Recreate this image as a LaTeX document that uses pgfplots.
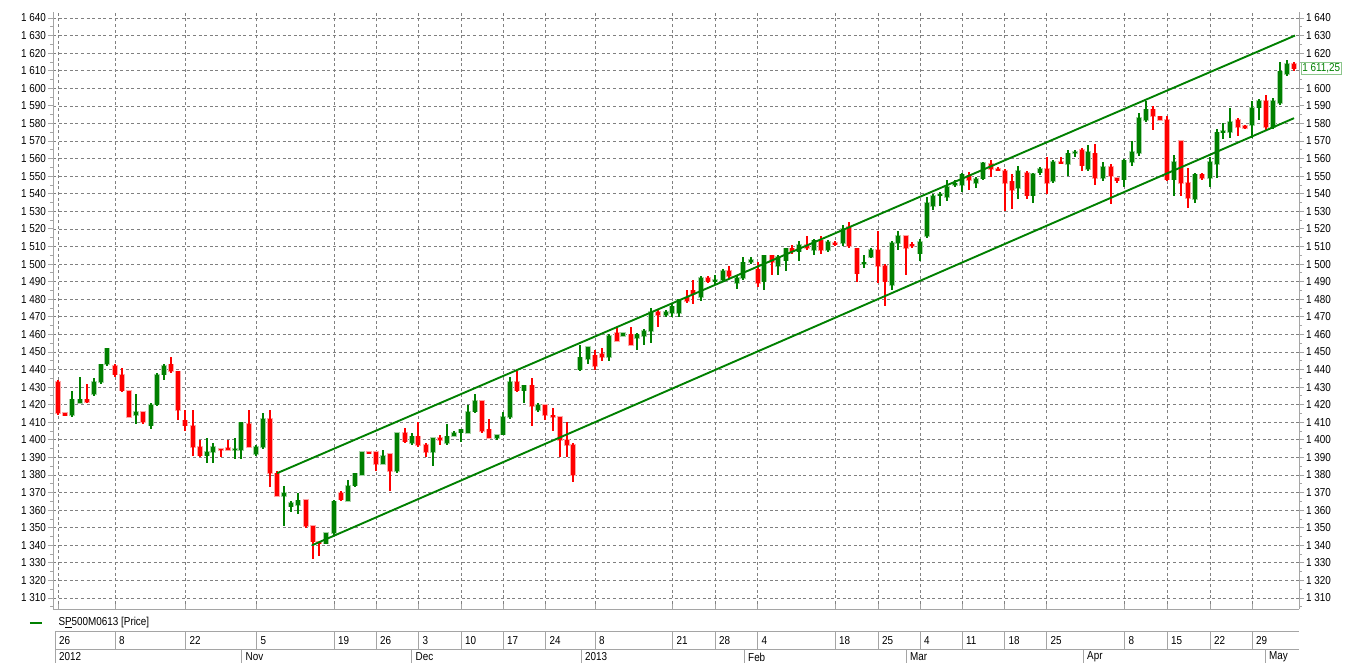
\documentclass[border=0pt]{standalone}
\usepackage{pgfplots}
\pgfplotsset{compat=1.18}
\usepackage{pgfplotstable}
\usepackage{fontspec}
\setmainfont{Liberation Sans}[FakeStretch=0.86]
\definecolor{cgreen}{RGB}{0,128,0}
\definecolor{cred}{RGB}{255,0,0}
\definecolor{gridc}{RGB}{128,128,128}
\definecolor{axc}{RGB}{165,165,165}

% up candles: x (px position), open, high, low, close
\pgfplotstableread{
x o h l c
72 1414 1428 1413 1423
80 1421 1436 1421 1423
94 1426 1435 1425 1433
101 1433 1443 1432 1443
107 1443 1452 1442 1452
136 1414 1426 1409 1416
151 1408 1421 1406 1420
157 1420 1438 1419 1437
164 1437 1443 1434 1442
207 1391 1401 1387 1393
213 1393 1398 1387 1396
235 1394 1401 1389 1395
241 1394 1410 1389 1410
256 1392 1397 1391 1396
263 1396 1415 1395 1412
284 1368 1374 1351 1370
291 1362 1365 1359 1364
298 1363 1370 1358 1365.5
326 1341 1347 1341 1347
334 1347 1366 1346 1365
348 1365 1377 1365 1374
355 1374 1381 1373 1381
362 1380 1393 1380 1393
383 1386 1394 1386 1391
397 1382 1404 1381 1404
412 1398 1404 1397 1402
433 1393 1401 1385 1401
447 1398 1409 1397 1402
454 1402 1405 1402 1404
461 1404 1406 1399 1406
468 1404 1420 1404 1416
475 1416 1426 1415 1422
497 1401 1403 1400 1403
503 1403 1416 1403 1413
510 1413 1436 1412 1433
524 1428 1431 1421 1431
538 1417 1421 1416 1420
580 1440 1454 1439 1447
588 1446 1453 1443 1453
609 1447 1460 1445 1459
623 1459 1461 1459 1461
637 1458 1461 1451 1460
644 1459 1463 1454 1462
651 1462 1475 1455 1473
666 1471 1474 1470 1473
672 1472 1477 1470 1476
679 1472 1480 1470 1480
701 1481 1493 1479 1492
715 1490 1493.6 1488 1491
723 1491 1497 1490 1496
737 1489 1494 1486 1492
743 1492 1504 1491 1501
751 1501 1504 1500 1502.5
764 1490 1505 1485 1505
778 1499 1505 1494 1504
786 1502 1509 1496 1509
799 1507 1513 1502 1511
814 1508 1514 1505 1513.5
828 1508 1513.5 1507 1512.5
843 1512 1522 1510 1520
864 1500 1505 1498 1501
871 1504 1509 1503.6 1508
892 1488 1513 1485 1512
898 1512 1519 1508 1516
920 1506 1514 1501.5 1512.5
927 1516 1538 1515 1535
933 1533 1540 1531 1539
940 1539 1541 1533 1540
947 1538 1548 1536 1544
955 1545 1547.6 1544 1546
962 1545 1552 1541 1551
976 1546 1549.5 1543 1548.6
983 1548.6 1558 1548 1557.5
1018 1543 1556 1537 1553
1033 1539 1552 1535 1551.4
1040 1552 1555 1550.5 1554
1053 1547 1559 1546 1558
1068 1557 1565 1550 1563
1075 1563 1565 1561 1564
1088 1554 1568 1553 1564
1103 1549 1558 1547 1555.5
1124 1548 1560 1544 1559
1132 1558 1570 1556 1564
1139 1563 1586 1561.5 1583
1146 1582 1593 1581 1588
1174 1548 1562 1539 1558
1195 1537 1552 1535 1551
1210 1549 1561 1544 1558
1217 1557 1577 1549 1575
1223 1575 1580 1571 1575.5
1230 1575 1589 1571.6 1581
1252 1579 1593 1572 1589
1259 1589 1594 1582 1593
1273 1578 1594.4 1576.7 1593
1280 1591.5 1615 1590.6 1609.6
1287 1608 1616 1607 1614
}\upcandles

% down candles
\pgfplotstableread{
x o h l c
58 1433 1434 1414 1415
65 1415.2 1415.5 1413.5 1413.7
87 1423 1432 1421 1421.5
115 1442 1443 1436 1437
122 1437 1441 1427 1428
129 1428 1428 1413 1413
143 1416 1416 1409 1410
171 1443 1447 1438 1439
178 1439 1439 1411 1417
185 1411 1417 1405 1408
193 1408 1417 1391 1396
200 1396 1400 1390 1391
221 1395 1395 1390 1394
228 1395 1400 1394 1394.5
249 1409 1417 1396 1396
270 1412 1417 1373 1381
277 1381 1382 1368 1368
306 1366 1366 1350 1351
313 1351 1351 1332 1342
319 1342 1342 1334 1341
341 1370 1371 1365 1366
369 1393 1393 1392 1392.5
376 1393 1393 1382 1386
390 1392 1392 1371 1382
405 1404 1407 1398 1399
418 1402 1410 1396 1397
426 1397 1398 1390 1393
440 1401 1402.5 1397 1400
482 1422 1422 1404 1405
489 1406 1412 1401 1401
517 1433 1439 1427 1428
532 1431 1435 1408 1419
545 1420 1420 1411 1414
553 1414 1418 1405 1413
560 1413 1413 1390 1400
567 1400 1410 1390 1397
573 1397 1398 1376 1380
595 1448 1451 1440 1442
602 1449 1452 1445 1447
617 1461 1464 1456 1456
631 1460 1464 1454 1454
658 1473 1474 1464 1471
687 1481 1485 1478 1479
693 1485 1491 1477 1483
708 1492 1493 1489 1490
729 1496 1499 1492 1493
758 1497 1501 1487 1489
772 1505 1505 1494 1501
792 1509 1511 1506 1507
807 1511 1516 1508 1509
821 1513.5 1516 1506 1508
835 1512 1513 1510.5 1511
849 1521 1524 1509 1510
857 1509 1509 1490 1494.5
878 1508 1519 1489 1499
885 1499 1500 1476 1490
906 1516 1516 1494 1509
912 1511 1512.5 1509 1510.5
969 1550.5 1552.4 1542.3 1547.6
991 1557 1559.4 1549.5 1554
998 1554 1555 1553 1553.3
1005 1553 1554 1530 1546
1012 1547 1551 1531.5 1542
1027 1552 1553 1537 1539
1047 1554 1561 1540 1546
1061 1558 1561 1557 1557.5
1082 1565 1566 1553 1556
1095 1563 1568.5 1545 1549
1111 1555.5 1557 1534 1550
1117 1549 1549.2 1546 1547.5
1153 1588 1590 1576 1584
1160 1584 1584.3 1582 1582
1167 1582 1584 1547.5 1548
1181 1570 1570 1539 1546
1188 1546 1554.5 1532 1537.5
1202 1551 1551.7 1548 1549
1238 1582 1583 1573 1578
1245 1578.6 1579 1576.7 1577.3
1266 1593 1596 1576 1578
1294 1614 1614.7 1610 1611.25
}\downcandles

\pgfplotstableread{
x y
277 1381
1295 1630
}\upperline

\pgfplotstableread{
x y
312 1340
1294 1583
}\lowerline

\pgfplotsset{
  candlebar/.style 2 args={draw=none, mark=none, forget plot,
    error bars/.cd, y dir=both, y explicit, error mark=none,
    error bar style={draw=#1, line width=#2}},
}

\begin{document}
\begin{tikzpicture}[font=\fontsize{11.5}{13}\selectfont]
\useasboundingbox (-53pt,-53.5pt) rectangle (1305pt,609.5pt);
\begin{axis}[
  at={(0pt,0pt)}, anchor=south west,
  scale only axis, width=1246pt, height=597.5pt,
  xmin=53, xmax=1299, ymin=1303.46, ymax=1643.41,
  clip=true,
  axis line style={draw=axc},
  axis x line*=bottom, axis y line*=left,
  xtick={58,115,185.5,256.5,334,376,418.5,461,503,545.5,595,672.5,715,757.5,835,878,920,962,1004.5,1046.5,1124.5,1167,1210,1252},
  xticklabels={},
  xtick style={draw=axc, line width=0.8pt},
  xtick align=inside,
  ytick={1310,1320,...,1640},
  minor ytick={1305,1315,...,1645},
  ytick style={draw=axc, line width=0.8pt},
  ytick align=outside,
  major tick length=5pt, minor tick length=3pt,
  /pgf/number format/assume math mode=true,
  yticklabel={\pgfmathprintnumber[1000 sep={\ }]{\tick}},
  yticklabel style={anchor=east, inner sep=0pt, xshift=-2pt},
  xmajorgrids, ymajorgrids,
  major grid style={gridc, line width=0.7pt, dash pattern=on 3pt off 2.6pt},
]
% halos
\addplot[candlebar={cgreen!35}{6pt}] table[x=x, y expr=(\thisrow{o}+\thisrow{c})/2, y error expr={max(abs(\thisrow{c}-\thisrow{o})/2,0.5)+0.4}] {\upcandles};
\addplot[candlebar={cred!35}{6pt}] table[x=x, y expr=(\thisrow{o}+\thisrow{c})/2, y error expr={max(abs(\thisrow{c}-\thisrow{o})/2,0.5)+0.4}] {\downcandles};
% wicks
\addplot[candlebar={cgreen}{1.3pt}] table[x=x, y expr=(\thisrow{h}+\thisrow{l})/2, y error expr=(\thisrow{h}-\thisrow{l})/2] {\upcandles};
\addplot[candlebar={cred}{1.3pt}] table[x=x, y expr=(\thisrow{h}+\thisrow{l})/2, y error expr=(\thisrow{h}-\thisrow{l})/2] {\downcandles};
% bodies
\addplot[candlebar={cgreen}{4.6pt}] table[x=x, y expr=(\thisrow{o}+\thisrow{c})/2, y error expr={max(abs(\thisrow{c}-\thisrow{o})/2,0.5)}] {\upcandles};
\addplot[candlebar={cred}{4.6pt}] table[x=x, y expr=(\thisrow{o}+\thisrow{c})/2, y error expr={max(abs(\thisrow{c}-\thisrow{o})/2,0.5)}] {\downcandles};
% channel lines
\addplot[cgreen, line width=1.9pt, no marks] table {\upperline};
\addplot[cgreen, line width=1.9pt, no marks] table {\lowerline};
\end{axis}
% right axis
\begin{axis}[
  at={(0pt,0pt)}, anchor=south west,
  scale only axis, width=1246pt, height=597.5pt,
  xmin=53, xmax=1299, ymin=1303.46, ymax=1643.41,
  axis x line=none, axis y line*=right,
  axis line style={draw=axc},
  ytick={1310,1320,...,1600,1620,1630,1640},
  minor ytick={1305,1315,...,1645},
  ytick style={draw=axc, line width=0.8pt},
  ytick align=outside,
  major tick length=5pt, minor tick length=3pt,
  /pgf/number format/assume math mode=true,
  yticklabel={\pgfmathprintnumber[1000 sep={\ }]{\tick}},
  yticklabel style={anchor=west, inner sep=0pt, xshift=2pt},
  clip=false,
]
\node[anchor=west, draw=cgreen!45, fill=white, text=cgreen, inner sep=1.5pt, line width=0.7pt]
  at (axis cs:1300.5,1611.25) {1\ 611,25};
\end{axis}
% legend
\draw[cgreen, line width=2.3pt] (-23pt,-13.2pt) -- (-11pt,-13.2pt);
\node[anchor=west, inner sep=0pt] at (5.3pt,-13.2pt) {S\underline{P}500M0613 [Price]};
% date rows
\draw[axc, line width=0.8pt] (2pt,-22.2pt) -- (1245.5pt,-22.2pt);
\draw[axc, line width=0.8pt] (2pt,-39.8pt) -- (1245.5pt,-39.8pt);
\draw[axc, line width=0.8pt] (2pt,-22.2pt) -- (2pt,-53.5pt);
\foreach \xx/\lab in {115/8,185.5/22,256.5/5,334/19,376/26,418.5/3,461/10,503/17,545.5/24,595/8,672.5/21,715/28,757.5/4,835/18,878/25,920/4,962/11,1004.5/18,1046.5/25,1124.5/8,1167/15,1210/22,1252/29}{
  \pgfmathsetmacro{\X}{\xx-53}
  \pgfmathsetmacro{\XL}{\xx-49}
  \draw[axc, line width=0.8pt] (\X pt,-22.2pt) -- (\X pt,-39.8pt);
  \node[anchor=west, inner sep=0pt] at (\XL pt,-30.8pt) {\lab};
}
\node[anchor=west, inner sep=0pt] at (6pt,-30.8pt) {26};
\foreach \xx/\lab in {241.5/Nov,411.5/Dec,581/2013,744/Feb,906/Mar,1083/Apr,1265/May}{
  \pgfmathsetmacro{\X}{\xx-53}
  \pgfmathsetmacro{\XL}{\xx-49}
  \draw[axc, line width=0.8pt] (\X pt,-39.8pt) -- (\X pt,-53.5pt);
  \node[anchor=west, inner sep=0pt] at (\XL pt,-47.5pt) {\lab};
}
\node[anchor=west, inner sep=0pt] at (6pt,-47.5pt) {2012};
\end{tikzpicture}
\end{document}
